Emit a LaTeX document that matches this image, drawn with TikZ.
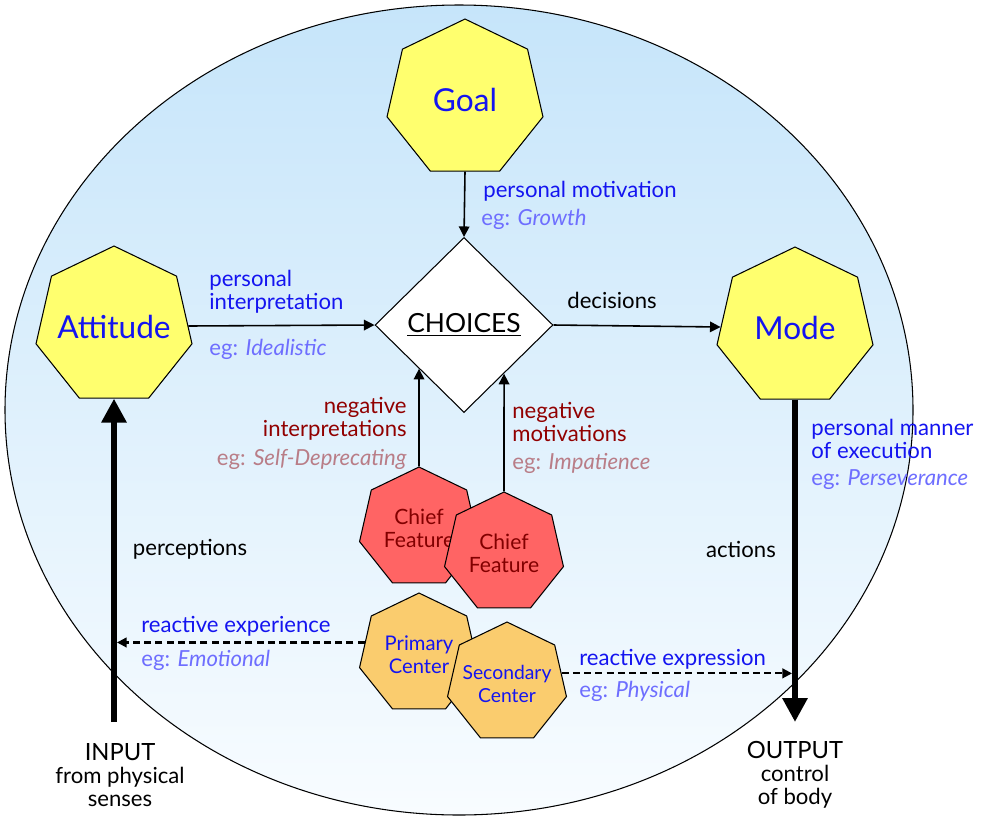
\documentclass[tikz,border=0pt]{standalone}
\usepackage{fontspec}
\setmainfont{Lato}
\usepackage{tikz}
\usetikzlibrary{shapes.geometric,arrows.meta}

\definecolor{skytop}{RGB}{198,229,250}
\definecolor{skybottom}{RGB}{248,252,255}
\definecolor{aspectyellow}{RGB}{255,255,110}
\definecolor{chiefred}{RGB}{255,100,100}
\definecolor{centerorange}{RGB}{250,204,110}
\definecolor{labelblue}{RGB}{20,20,240}
\definecolor{egblue}{RGB}{110,110,255}
\definecolor{negred}{RGB}{145,0,0}
\definecolor{egred}{RGB}{185,125,135}
\definecolor{chieftext}{RGB}{130,0,0}

% text that does not widen the heptagon
\newcommand{\heptext}[1]{\makebox[0pt]{\raisebox{-0.41em}[0pt][0pt]{\begin{tabular}{@{}c@{}}#1\end{tabular}}}}

\begin{document}
\begin{tikzpicture}[x=0.02cm,y=-0.02cm,
    aspectnode/.style={regular polygon,regular polygon sides=7,draw,line width=0.6pt,
        fill=aspectyellow,minimum size=3.2cm,inner sep=0pt,text=labelblue,
        font=\fontsize{18}{21}\selectfont},
    featurenode/.style={regular polygon,regular polygon sides=7,draw,line width=0.6pt,
        minimum size=2.44cm,inner sep=0pt,font=\fontsize{12}{13}\selectfont},
    thinarrow/.style={-{Triangle[length=6pt,width=6pt]},line width=0.9pt},
    bigarrow/.style={-{Triangle[length=13.6pt,width=13.6pt]},line width=3.4pt},
    dasharrow/.style={-{Triangle[length=5.5pt,width=5.5pt]},line width=1.2pt,dash pattern=on 4pt off 2.4pt},
    lbl/.style={inner sep=0pt,text=labelblue,font=\fontsize{12.6}{13}\selectfont},
    eg/.style={inner sep=0pt,text=egblue,font=\fontsize{12.6}{13}\selectfont},
    neg/.style={inner sep=0pt,text=negred,font=\fontsize{12.6}{13}\selectfont},
    negeg/.style={inner sep=0pt,text=egred,font=\fontsize{12.6}{13}\selectfont},
    plain/.style={inner sep=0pt,font=\fontsize{12.6}{13}\selectfont}]

    \useasboundingbox (0,0) rectangle (1000,825);

    % Background
    \shadedraw[top color=skytop,bottom color=skybottom,line width=0.6pt]
        (459,410) ellipse [x radius=454, y radius=405];

    % Aspects
    \node[aspectnode] (goal) at (465,99) {\heptext{Goal}};
    \node[aspectnode] (attitude) at (114,326) {\heptext{Attitude}};
    \node[aspectnode] (mode) at (795,327) {\heptext{Mode}};
    \node[diamond,draw,fill=white,line width=0.6pt,minimum width=3.56cm,minimum height=3.5cm,
        inner sep=0pt,font=\fontsize{15}{17}\selectfont] (choices) at (464,325) {\underline{CHOICES}};

    % Features and centers
    \node[featurenode,fill=chiefred,text=chieftext] (chief1) at (419,528) {\heptext{Chief\\Feature}};
    \node[featurenode,fill=chiefred,text=chieftext] (chief2) at (504,553) {\heptext{Chief\\Feature}};
    \node[featurenode,fill=centerorange,text=labelblue,font=\fontsize{11.5}{13}\selectfont] (primary) at (419,654) {\heptext{Primary\\Center}};
    \node[featurenode,fill=centerorange,text=labelblue,font=\fontsize{11}{13}\selectfont] (secondary) at (507,683) {\heptext{Secondary\\Center}};

    % Input and output
    \coordinate (in) at (114,722);
    \coordinate (out) at (795,722);

    % Arrows
    \draw[thinarrow] (goal.south) -- (choices.north);
    \draw[thinarrow] (attitude.east) -- (choices.west);
    \draw[thinarrow] (choices.east) -- (mode.west);
    \draw[thinarrow] (chief1.north) -- (intersection of chief1.north--chief1.center and choices.west--choices.south);
    \draw[thinarrow] (chief2.north) -- (intersection of chief2.north--chief2.center and choices.east--choices.south);
    \draw[bigarrow] (in) -- (attitude.south);
    \draw[bigarrow] (mode.south) -- (out);
    \draw[dasharrow,shorten >=1.7pt] (primary.168) -- (primary.168 -| in);
    \draw[dasharrow,shorten >=1.7pt] (secondary.10) -- (secondary.10 -| out);

    % Labels
    \node[lbl,anchor=west] (motiv) at (483,191) {personal motivation};
    \node[eg,anchor=west] (motiveg) at (481,219) {eg: \textit{Growth}};
    \node[lbl,anchor=west,align=left] (interp) at (209,292) {personal\\interpretation};
    \node[eg,anchor=west] (interpeg) at (209,349) {eg: \textit{Idealistic}};
    \node[plain,anchor=west] (decide) at (567,300) {decisions};
    \node[neg,anchor=east,align=right] (neginterp) at (407,419) {negative\\interpretations};
    \node[negeg,anchor=east] (neginterpeg) at (407,459) {eg: \textit{Self-Deprecating}};
    \node[neg,anchor=west,align=left] (negmotiv) at (512,422) {negative\\motivations};
    \node[negeg,anchor=west] (negmotiveg) at (512,463) {eg: \textit{Impatience}};
    \node[lbl,anchor=west,align=left] (manner) at (811,439) {personal manner\\of execution};
    \node[eg,anchor=west] (mannereg) at (811,480) {eg: \textit{Perseverance}};
    \node[plain] (percept) at (190,549) {perceptions};
    \node[plain] (act) at (741,549) {actions};
    \node[lbl,anchor=west] (reactexp) at (141,626) {reactive experience};
    \node[eg,anchor=west] (reactexpeg) at (141,660) {eg: \textit{Emotional}};
    \node[lbl,anchor=west] (reactexpr) at (579,659) {reactive expression};
    \node[eg,anchor=west] (reactexpreg) at (579,691) {eg: \textit{Physical}};
    \node[plain,align=center] (input) at (120,775) {{\fontsize{13.5}{14}\selectfont INPUT}\\from physical\\senses};
    \node[plain,align=center] (output) at (795,775) {{\fontsize{13.5}{14}\selectfont OUTPUT}\\control\\of body};

\end{tikzpicture}
\end{document}
